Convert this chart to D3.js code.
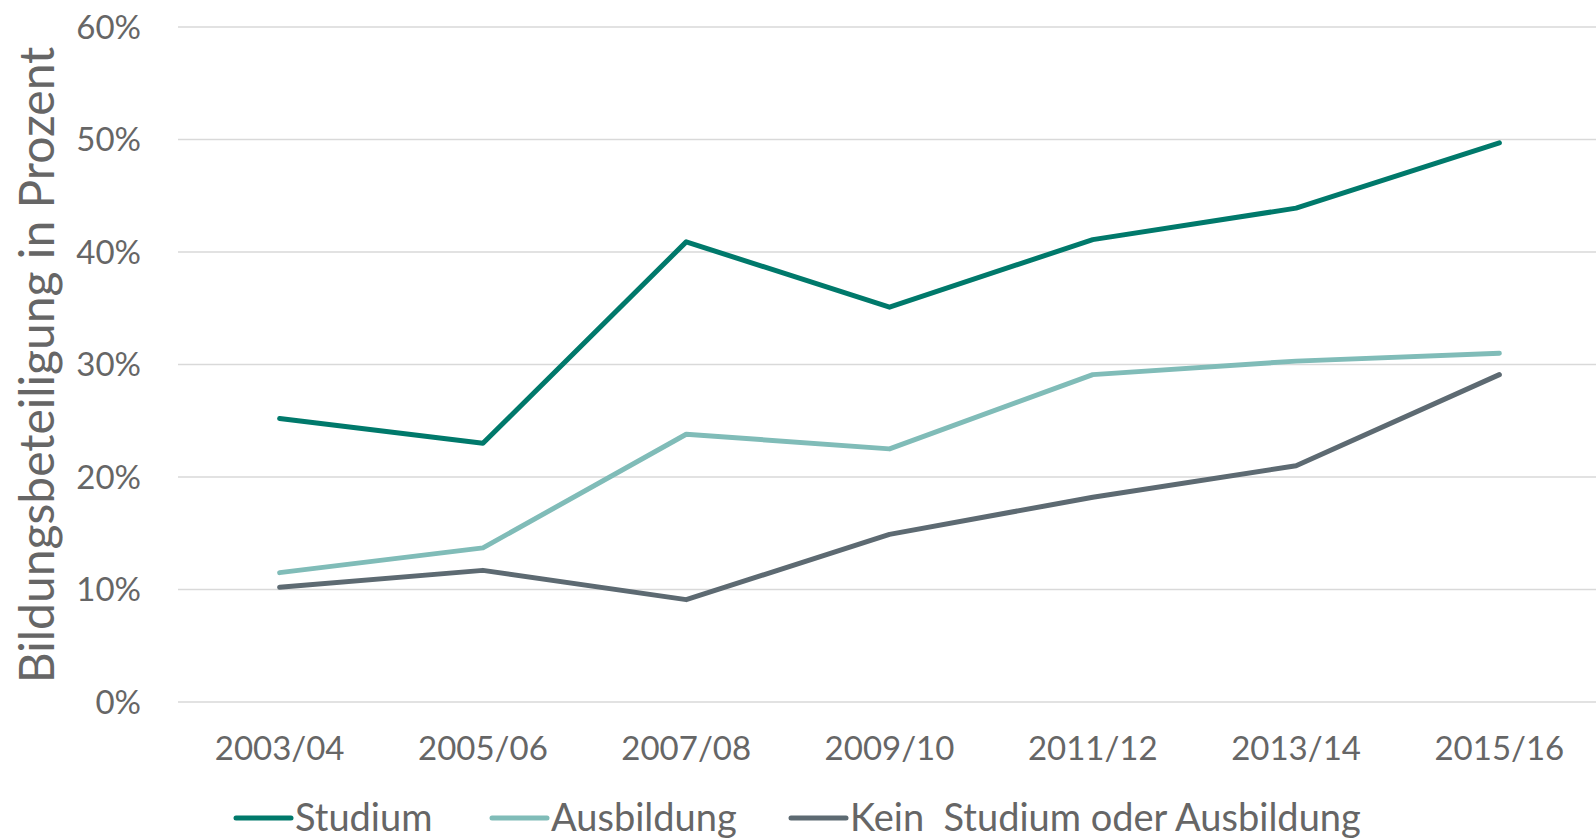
<!DOCTYPE html>
<html>
<head>
<meta charset="utf-8">
<script src="https://cdn.jsdelivr.net/npm/d3@7"></script>
<style>
  body { margin: 0; background: #fff; }
  svg text { font-family: Lato, "Open Sans", sans-serif; fill: #666; }
</style>
</head>
<body>
<svg width="1596" height="838"></svg>
<script>
var years = ['2003/04', '2005/06', '2007/08', '2009/10', '2011/12', '2013/14', '2015/16'];
var studium = [25.2, 23.0, 40.9, 35.1, 41.1, 43.9, 49.7];
var ausbildung = [11.5, 13.7, 23.8, 22.5, 29.1, 30.3, 31.0];
var kein = [10.2, 11.7, 9.1, 14.9, 18.2, 21.0, 29.1];
var yTicks = [0, 10, 20, 30, 40, 50, 60];
var seriesNames = ['Studium', 'Ausbildung', 'Kein  Studium oder Ausbildung'];
var colors = ['#00796b', '#80bcb8', '#5d6a72'];

var series = [studium, ausbildung, kein];

var svg = d3.select('svg');

var x = d3.scalePoint().domain(years).range([178, 1601]).padding(0.5);
var y = d3.scaleLinear().domain([0, 60]).range([702, 27]);

// gridlines
svg.append('g').selectAll('line')
  .data(yTicks)
  .enter()
  .append('line')
  .attr('x1', 178)
  .attr('x2', 1596)
  .attr('y1', function(d) { return y(d); })
  .attr('y2', function(d) { return y(d); })
  .attr('stroke', '#d9d9d9')
  .attr('stroke-width', 1.5);

// y tick labels
svg.append('g').selectAll('text')
  .data(yTicks)
  .enter()
  .append('text')
  .attr('x', 141)
  .attr('y', function(d) { return y(d); })
  .attr('dy', '0.35em')
  .attr('text-anchor', 'end')
  .style('font-size', '33px')
  .text(function(d) { return d + '%'; });

// x tick labels
svg.append('g').selectAll('text')
  .data(years)
  .enter()
  .append('text')
  .attr('x', function(d) { return x(d); })
  .attr('y', 748)
  .attr('dy', '0.35em')
  .attr('text-anchor', 'middle')
  .style('font-size', '33px')
  .text(function(d) { return d; });

// y axis title
svg.append('text')
  .attr('transform', 'translate(37,365) rotate(-90)')
  .attr('dy', '0.35em')
  .attr('text-anchor', 'middle')
  .style('font-size', '48px')
  .text('Bildungsbeteiligung in Prozent');

var line = d3.line()
  .x(function(d, i) { return x(years[i]); })
  .y(function(d) { return y(d); });

svg.append('g').selectAll('path')
  .data(series)
  .enter()
  .append('path')
  .attr('d', line)
  .attr('fill', 'none')
  .attr('stroke', function(d, i) { return colors[i]; })
  .attr('stroke-width', 5)
  .attr('stroke-linecap', 'round')
  .attr('stroke-linejoin', 'round');

// legend
var legendX = [236, 492, 791];
var legend = svg.append('g').selectAll('g')
  .data(seriesNames)
  .enter()
  .append('g')
  .attr('transform', function(d, i) { return 'translate(' + legendX[i] + ',818)'; });

legend.append('line')
  .attr('x1', 0)
  .attr('x2', 55)
  .attr('stroke', function(d, i) { return colors[i]; })
  .attr('stroke-width', 5)
  .attr('stroke-linecap', 'round');

legend.append('text')
  .attr('x', 59)
  .attr('dy', '0.35em')
  .style('font-size', '38px')
  .style('white-space', 'pre')
  .text(function(d) { return d; });
</script>
</body>
</html>
